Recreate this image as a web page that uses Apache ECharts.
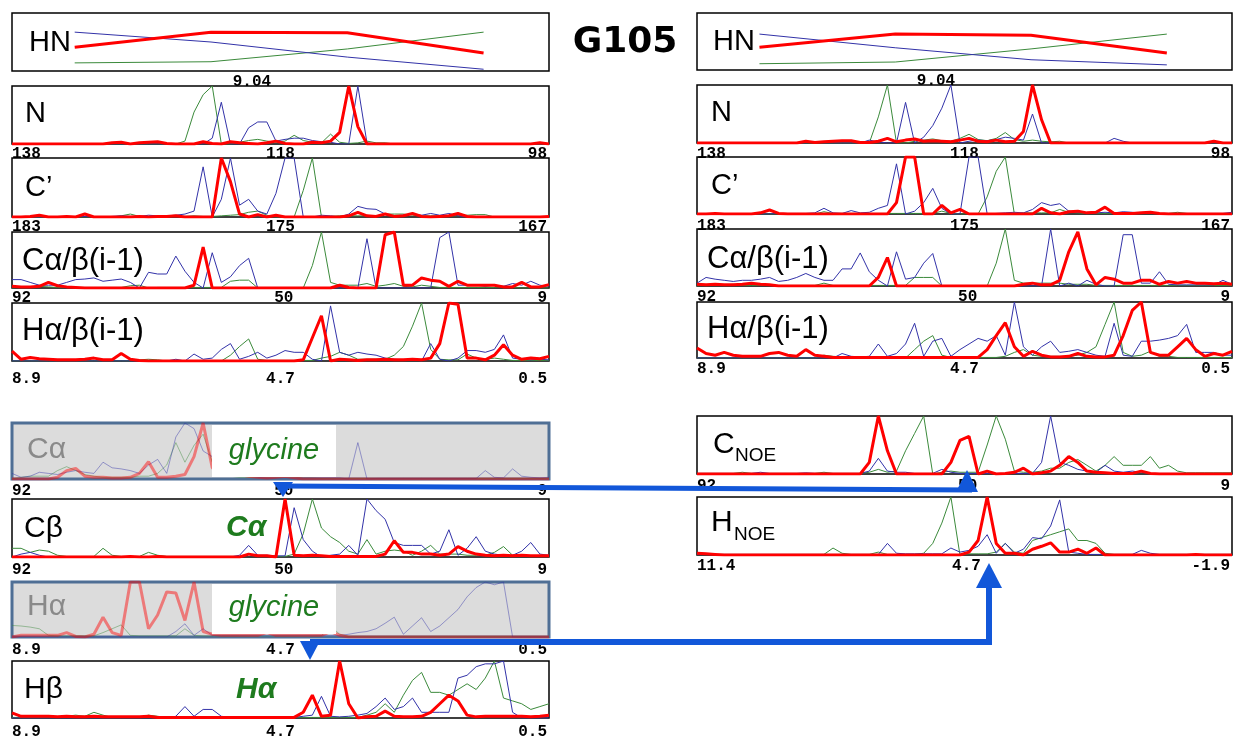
<!DOCTYPE html>
<html>
<head>
<meta charset="utf-8">
<script src="https://cdn.jsdelivr.net/npm/echarts@6/dist/echarts.min.js"></script>
<style>
  html, body { margin: 0; background: #fff; }
  #main { width: 1237px; height: 738px; }
</style>
</head>
<body>
<div id="main"></div>
<script>
// ---- strip data (intensity, 0 = baseline, 100 = top of strip) ----
// HN strips: 4 planes
var hnShift = [9.105, 9.055, 9.005, 8.955];
var hnRedL = [41, 67, 66, 31];
var hnBlueL = [67, 50, 24, 3];
var hnGreenL = [14, 16, 38, 67];
var hnRedR = [40, 63, 61, 30];
var hnBlueR = [63, 39, 18, 9];
var hnGreenR = [11, 14, 37, 63];

// N
var nRedL = [0,0,0,0,0,0,0,0,0,0, 0,2,3,0,2,3,4,1,0,0, 0,4,1,0,4,2,1,0,2,5, 1,0,0,3,2,5,20,100,30,0, 0,0,0,0,0,0,0,0,0,0, 0,0,0,0,0,0,0,0,2,0];
var nBlueL = [0,0,0,0,0,0,0,0,0,0, 0,0,0,0,0,0,0,0,0,0, 0,0,10,72,0,0,28,38,38,5, 8,10,10,6,4,3,0,0,100,2, 0,0,0,0,0,0,0,0,0,0, 0,0,0,0,0,0,0,0,0,0];
var nGreenL = [0,0,0,0,0,0,0,0,0,0, 0,0,0,0,0,0,0,0,0,5, 55,85,100,0,0,3,6,8,5,3, 5,15,6,3,2,17,3,1,2,5, 2,2,0,0,0,0,0,0,0,0, 0,0,0,0,0,0,0,0,0,0];
var nRedR = [0,0,0,0,0,0,0,0,0,0, 0,0,3,1,2,3,4,4,1,1, 3,8,2,5,7,3,4,3,2,5, 8,3,2,5,2,3,20,100,40,0, 0,0,0,0,0,0,0,0,0,0, 0,0,0,0,0,0,0,3,0,0];
var nBlueR = [0,0,0,0,0,0,0,0,0,0, 0,0,0,2,0,0,0,0,0,5, 2,0,0,70,0,10,30,60,100,0, 3,5,4,6,10,8,5,50,0,0, 0,0,0,0,0,0,8,3,0,0, 0,0,0,0,0,0,0,0,0,0];
var nGreenR = [0,0,0,0,0,0,0,0,0,0, 0,0,0,0,0,0,0,0,0,0, 45,100,0,0,3,5,7,4,3,8, 15,6,4,8,18,6,3,5,3,2, 3,0,0,0,0,0,0,0,0,0, 0,0,0,0,0,0,0,0,0,0];

// C'
var coRedL = [0,0,1,3,0,0,1,0,5,0, 0,0,0,0,1,0,1,1,2,0, 0,0,0,100,60,5,0,4,0,3, 0,0,0,0,0,0,0,2,8,2, 1,5,1,2,6,1,0,1,2,6, 1,0,0,0,0,0,0,0,0,1];
var coBlueL = [0,0,0,0,0,0,0,0,1,0, 0,1,2,1,1,3,2,2,3,5, 10,85,0,30,100,20,30,10,5,40, 100,100,0,0,3,2,0,5,18,14, 13,5,2,3,5,3,6,3,6,2, 0,0,0,0,0,0,0,0,0,0];
var coGreenL = [0,0,0,0,0,0,0,0,0,0, 0,0,2,5,1,1,1,2,1,1, 2,1,1,2,3,4,8,10,3,0, 0,0,45,100,0,1,2,2,2,2, 2,5,5,5,3,2,2,2,2,2, 3,4,4,0,0,0,0,0,0,0];
var coRedR = [0,0,1,0,0,0,0,2,7,1, 0,0,0,0,0,0,0,0,0,0, 0,0,20,100,100,0,0,15,2,8, 0,0,0,0,0,0,0,0,10,2, 0,4,5,2,3,12,1,1,1,2, 3,1,0,0,0,0,0,0,0,0];
var coBlueR = [0,0,0,0,0,0,0,0,0,1, 1,1,1,2,10,2,1,6,2,3, 10,15,88,0,5,20,45,10,0,0, 100,100,0,1,2,3,2,8,20,15, 18,5,3,2,2,3,2,4,3,1, 1,1,1,1,1,1,1,1,1,3];
var coGreenR = [0,0,0,0,0,0,0,0,0,0, 0,0,0,0,4,1,1,1,1,1, 1,1,1,1,1,1,1,5,1,0, 0,0,30,75,100,0,2,2,2,2, 8,3,2,1,1,1,1,1,1,1, 1,1,1,3,1,0,0,0,0,0];

// Ca/b(i-1)
var cabRedL = [3,2,2,3,10,4,2,1,0,0, 0,0,0,0,0,0,0,0,0,0, 5,73,0,0,0,0,0,0,0,0, 0,0,0,0,0,0,5,1,0,0, 0,95,100,5,5,18,14,12,3,12, 5,5,5,5,2,2,10,2,2,6];
var cabBlueL = [15,15,10,5,5,5,10,15,16,18, 12,14,16,10,0,28,25,25,57,30, 10,0,63,10,20,40,53,0,0,0, 0,0,0,0,0,0,0,0,0,88, 0,0,0,0,0,0,0,90,100,5, 5,5,3,5,3,8,5,12,5,3];
var cabGreenL = [0,2,2,3,2,1,1,1,1,1, 1,1,1,4,5,0,1,1,1,1, 1,1,1,1,12,14,14,0,0,0, 0,0,0,40,100,10,5,5,5,8, 3,5,8,3,2,5,3,1,1,1, 1,1,1,1,3,1,0,0,0,0];
var cabRedR = [3,2,3,2,2,3,5,3,2,0, 0,0,0,0,0,0,0,0,0,0, 15,50,0,0,0,0,0,0,0,0, 0,0,0,0,0,0,3,5,2,2, 10,60,95,30,2,15,12,5,5,10, 10,3,8,5,8,5,5,4,5,3];
var cabBlueR = [5,15,12,10,8,10,10,12,15,8, 10,15,22,15,10,10,30,30,58,25, 10,0,60,12,15,40,57,0,0,0, 0,0,0,0,0,0,0,0,0,100, 0,5,0,10,3,0,0,90,90,5, 5,25,3,2,2,2,2,2,10,3];
var cabGreenR = [0,2,2,2,3,1,1,1,1,1, 1,1,1,1,5,1,1,1,1,1, 1,1,1,1,15,15,15,0,0,0, 0,0,0,40,100,10,5,5,5,5, 5,3,3,3,1,1,1,1,1,1, 1,1,1,1,1,1,1,1,1,1];

// Ha/b(i-1)
var habRedL = [17,3,6,4,3,2,2,2,3,5, 2,2,13,3,1,0,0,0,0,0, 0,0,0,0,0,0,0,0,0,0, 0,0,2,40,78,0,3,2,1,2, 2,3,2,2,3,2,5,30,100,98, 5,5,2,10,28,10,3,5,4,8];
var habBlueL = [0,0,0,0,0,0,0,0,0,0, 0,0,0,0,0,0,0,0,3,0, 12,3,5,20,30,3,8,15,5,10, 18,15,15,3,0,95,15,10,15,12, 10,5,3,2,2,0,30,3,0,5, 18,18,15,20,45,5,3,2,3,2];
var habGreenL = [0,0,0,0,0,0,0,0,0,0, 0,0,0,0,2,3,2,0,0,0, 0,0,0,0,10,25,38,3,1,1, 1,1,1,1,5,8,15,10,3,3, 3,3,10,25,60,100,20,3,2,2, 12,5,3,5,3,1,1,1,1,1];
var habRedR = [18,8,5,10,5,3,3,3,8,10, 5,3,15,5,3,1,1,1,1,1, 1,1,1,1,1,1,1,1,1,1, 1,1,15,40,63,20,3,12,5,2, 2,3,8,3,2,2,5,40,85,100, 10,5,5,20,35,15,3,8,5,12];
var habBlueR = [0,0,0,0,0,0,0,0,0,0, 0,0,0,0,0,0,8,3,2,3, 25,3,8,25,62,3,30,35,3,15, 25,35,30,40,5,100,20,5,20,30, 10,12,15,10,5,3,62,5,3,30, 30,32,35,40,60,10,10,10,5,5];
var habGreenR = [0,0,0,0,0,0,0,0,0,0, 0,0,0,0,5,3,2,0,0,0, 0,0,0,0,15,30,40,5,1,1, 1,1,1,1,3,10,15,5,3,3, 3,3,5,10,20,60,100,10,3,5, 12,3,3,1,1,1,1,1,1,1];

// Ca (glycine, greyed)
var caRed = [0,0,0,0,0,3,15,19,5,3, 3,2,2,3,10,31,3,3,5,8, 40,100,20,12,10,8,5,3,2,3, 5,2,0,0,0,0,0,0,0,0, 0,0,0,0,0,0,0,0,0,0, 0,0,0,0,0,0,0,0,0,0];
var caBlue = [10,3,5,12,10,8,12,15,12,10, 30,20,18,15,10,25,35,10,75,100, 90,50,40,20,10,5,5,3,2,2, 2,2,2,2,2,2,2,0,65,0, 1,1,1,1,1,1,1,1,1,1, 1,1,15,3,2,18,5,3,2,3];
var caGreen = [0,3,5,5,5,15,22,15,8,5, 3,3,3,3,5,5,10,25,65,30, 60,80,30,10,5,3,3,3,3,3, 3,3,2,2,1,1,1,1,1,1, 1,1,1,1,1,1,1,1,1,1, 1,1,1,1,1,1,1,1,1,1];

// Cb
var cbRed = [0,0,0,0,0,0,0,0,0,0, 0,0,0,1,0,0,1,0,0,0, 0,0,0,0,0,0,5,2,2,0, 100,3,2,3,2,1,1,1,1,1, 1,5,28,8,8,5,5,3,5,18, 10,5,3,2,3,2,3,2,2,2];
var cbBlue = [0,5,8,3,0,0,0,0,0,0, 0,0,0,0,0,0,0,0,0,0, 0,0,0,0,0,3,20,3,3,2, 2,85,30,10,0,3,5,20,3,100, 80,65,25,20,20,20,5,10,47,3, 15,35,10,5,3,3,10,25,5,3];
var cbGreen = [15,15,8,12,10,3,1,1,1,1, 15,3,1,1,1,8,3,1,1,1, 1,1,1,1,1,1,5,1,1,1, 1,5,40,100,50,35,25,10,5,30, 5,10,12,10,3,10,20,5,5,5, 3,3,3,8,18,3,2,2,2,2];

// Ha (glycine, greyed)
var haRed = [0,3,3,3,3,3,8,1,0,5, 36,8,3,100,100,15,40,82,80,30, 100,10,5,3,3,3,3,3,8,3, 3,3,3,3,3,10,3,0,0,0, 0,0,0,0,0,0,0,0,0,0, 0,0,0,0,0,0,0,0,0,0];
var haBlue = [0,0,0,0,0,0,0,0,0,0, 0,0,0,0,0,0,0,0,10,24, 3,15,3,3,3,3,3,3,3,3, 3,3,3,3,3,3,3,5,8,10, 15,25,36,5,20,35,10,20,35,50, 73,90,100,95,100,0,0,0,0,0];
var haGreen = [21,20,18,15,3,2,2,2,2,2, 8,15,22,3,2,2,2,2,2,15, 3,2,2,2,2,2,2,2,2,2, 2,2,2,2,2,20,5,1,1,1, 1,1,1,1,1,1,1,1,1,1, 1,1,1,1,1,1,1,1,1,1];

// Hb
var hbRed = [9,3,3,3,3,2,3,2,2,3, 2,2,2,2,2,3,1,1,1,1, 1,1,1,1,1,1,1,1,1,1, 1,1,10,40,3,5,100,25,0,2, 3,12,3,2,2,3,10,25,40,30, 5,2,3,3,3,3,3,2,3,5];
var hbBlue = [0,0,0,0,0,0,0,0,0,0, 0,0,0,0,0,0,0,0,3,20, 3,15,15,3,1,1,1,1,1,1, 1,1,3,5,38,3,2,3,5,8, 20,35,15,20,35,10,10,10,10,70, 75,90,95,95,100,10,0,0,0,0];
var hbGreen = [1,1,1,1,1,1,3,5,3,10, 5,1,1,1,1,5,3,1,1,1, 1,1,1,1,1,1,1,1,1,1, 1,1,1,1,1,1,1,1,1,5, 10,25,10,40,66,80,45,45,40,50, 60,50,70,100,35,30,25,15,20,25];

// C NOE
var cnoeRed = [0,0,0,0,0,0,0,0,0,0, 0,0,0,0,0,0,0,0,0,20, 100,40,0,0,0,0,0,0,20,58, 65,0,5,0,1,3,10,0,2,5, 15,30,20,5,3,2,1,1,1,5, 1,0,0,0,0,0,0,0,0,0];
var cnoeBlue = [1,1,1,1,1,1,1,3,1,1, 1,1,2,1,1,1,1,1,1,5, 27,5,3,3,1,1,1,8,3,1, 1,1,1,1,1,1,1,1,20,100, 20,15,8,5,3,15,5,3,5,3, 1,1,1,1,1,1,1,1,1,1];
var cnoeGreen = [1,1,1,1,1,3,1,1,1,1, 1,1,1,1,3,1,1,1,1,3, 8,3,5,40,70,100,0,3,5,3, 3,3,50,100,60,5,3,3,5,10, 10,20,25,15,5,15,30,15,15,15, 30,10,15,5,2,2,2,2,2,2];

// H NOE
var hnoeRed = [3,2,1,0,0,0,0,0,0,0, 0,0,0,0,0,0,0,0,0,0, 0,0,0,0,0,0,0,0,0,0, 5,25,100,20,3,3,0,10,15,21, 5,5,10,3,12,0,0,0,0,0, 0,0,0,0,0,1,0,0,0,0];
var hnoeBlue = [1,1,1,1,1,1,1,1,1,1, 1,1,1,1,1,1,1,1,1,1, 1,20,3,2,2,2,2,2,12,5, 8,15,35,3,20,3,10,30,28,50, 95,5,3,1,1,1,1,1,1,8, 3,1,1,1,1,1,1,1,1,1];
var hnoeGreen = [1,1,1,1,1,1,1,1,1,1, 1,1,1,1,1,12,3,1,1,1, 5,1,1,1,1,3,20,55,100,0, 2,2,2,5,20,5,3,25,30,35, 40,45,25,25,20,3,1,1,1,1, 1,1,1,1,1,1,1,1,1,1];

// ppm ranges and tick labels
var rangeN = [98, 138], ticksN = [138, 118, 98];
var rangeCO = [167, 183], ticksCO = [183, 175, 167];
var rangeC = [9, 92], ticksC = [92, 50, 9];
var rangeH = [0.5, 8.9], ticksH = [8.9, 4.7, 0.5];
var rangeHnoe = [-1.9, 11.4], ticksHnoe = [11.4, 4.7, -1.9];
var rangeHN = [8.931, 9.128], ticksHN = [9.04];

var RED = '#ff0000', BLUE = '#3232a8', GREEN = '#3b8a3b';

// panels: position on page + which data
var panels = [
  { left: 12, top: 13, width: 537, height: 58, range: rangeHN, ticks: ticksHN, margin: 3, xs: hnShift, red: hnRedL, blue: hnBlueL, green: hnGreenL },
  { left: 12, top: 86, width: 537, height: 58, range: rangeN, ticks: ticksN, margin: 2, red: nRedL, blue: nBlueL, green: nGreenL },
  { left: 12, top: 158, width: 537, height: 59, range: rangeCO, ticks: ticksCO, margin: 2, red: coRedL, blue: coBlueL, green: coGreenL },
  { left: 12, top: 232, width: 537, height: 56, range: rangeC, ticks: ticksC, margin: 2, red: cabRedL, blue: cabBlueL, green: cabGreenL },
  { left: 12, top: 303, width: 537, height: 58, range: rangeH, ticks: ticksH, margin: 10, red: habRedL, blue: habBlueL, green: habGreenL },
  { left: 12, top: 423, width: 537, height: 56, range: rangeC, ticks: ticksC, margin: 4, red: caRed, blue: caBlue, green: caGreen, grey: true },
  { left: 12, top: 499, width: 537, height: 58, range: rangeC, ticks: ticksC, margin: 5, red: cbRed, blue: cbBlue, green: cbGreen },
  { left: 12, top: 582, width: 537, height: 55, range: rangeH, ticks: ticksH, margin: 5, red: haRed, blue: haBlue, green: haGreen, grey: true },
  { left: 12, top: 661, width: 537, height: 57, range: rangeH, ticks: ticksH, margin: 6, red: hbRed, blue: hbBlue, green: hbGreen },

  { left: 697, top: 13, width: 535, height: 57, range: rangeHN, ticks: ticksHN, margin: 3, xs: hnShift, red: hnRedR, blue: hnBlueR, green: hnGreenR },
  { left: 697, top: 85, width: 535, height: 58, range: rangeN, ticks: ticksN, margin: 3, red: nRedR, blue: nBlueR, green: nGreenR },
  { left: 697, top: 157, width: 535, height: 57, range: rangeCO, ticks: ticksCO, margin: 4, red: coRedR, blue: coBlueR, green: coGreenR },
  { left: 697, top: 229, width: 535, height: 57, range: rangeC, ticks: ticksC, margin: 3, red: cabRedR, blue: cabBlueR, green: cabGreenR },
  { left: 697, top: 302, width: 535, height: 56, range: rangeH, ticks: ticksH, margin: 3, red: habRedR, blue: habBlueR, green: habGreenR },
  { left: 697, top: 416, width: 535, height: 58, range: rangeC, ticks: ticksC, margin: 4, red: cnoeRed, blue: cnoeBlue, green: cnoeGreen },
  { left: 697, top: 497, width: 535, height: 58, range: rangeHnoe, ticks: ticksHnoe, margin: 3, red: hnoeRed, blue: hnoeBlue, green: hnoeGreen }
];

// points spread evenly across the strip's ppm window (high ppm on the left)
function withShift(p, vals) {
  var lo = p.range[0], hi = p.range[1], n = vals.length;
  return vals.map(function (v, i) {
    var x = p.xs ? p.xs[i] : hi - i * (hi - lo) / (n - 1);
    return [+x.toFixed(4), v];
  });
}

// edge tick labels sit inside the strip: pad one side by the text width
var CHAR_W = 9.6;
var labelFont = { fontFamily: 'Liberation Mono', fontWeight: 'bold', fontSize: 16, color: '#000' };
var rich = {};
for (var k = 1; k <= 5; k++) {
  rich['l' + k] = Object.assign({ padding: [0, 0, 0, k * CHAR_W] }, labelFont);
  rich['r' + k] = Object.assign({ padding: [0, k * CHAR_W + 4, 0, 0] }, labelFont);
  rich['c' + k] = Object.assign({}, labelFont);
}

var grids = [], xAxes = [], yAxes = [], series = [];
panels.forEach(function (p, i) {
  grids.push({
    left: p.left, top: p.top, width: p.width, height: p.height,
    show: true,
    backgroundColor: p.grey ? '#dcdcdc' : '#fff',
    borderColor: p.grey ? '#4f6f95' : '#000',
    borderWidth: p.grey ? 3 : 1.5,
    outerBoundsMode: 'none'
  });
  var lo = p.range[0], hi = p.range[1];
  xAxes.push({
    gridIndex: i, type: 'value', inverse: true,
    min: lo, max: hi,
    axisLine: { show: false }, axisTick: { show: false }, splitLine: { show: false },
    axisLabel: Object.assign({
      customValues: p.ticks,
      margin: p.margin,
      hideOverlap: false,
      rich: rich,
      formatter: function (v) {
        var s = String(v);
        var side = v === hi ? 'l' : (v === lo ? 'r' : 'c');
        return '{' + side + s.length + '|' + s + '}';
      }
    }, labelFont)
  });
  yAxes.push({ gridIndex: i, type: 'value', min: 0, max: 100, show: false });
  var op = p.grey ? 0.45 : 1;
  [['green', GREEN, 1], ['blue', BLUE, 1], ['red', RED, 3]].forEach(function (s) {
    series.push({
      type: 'line', xAxisIndex: i, yAxisIndex: i,
      data: withShift(p, p[s[0]]),
      symbol: 'none', silent: true,
      lineStyle: { color: s[1], width: s[2], opacity: op },
      z: s[0] === 'red' ? 4 : 3
    });
  });
});

// strip labels
function txt(t, x, y, size, color) {
  return {
    type: 'text', z: 100,
    style: { text: t, x: x, y: y, fill: color || '#000', font: size + 'px "Liberation Sans"', verticalAlign: 'middle', align: 'left' }
  };
}
var labels = [
  txt('HN', 29, 43, 29), txt('N', 25, 114, 29), txt('C\u2019', 25, 188, 29),
  txt('C\u03b1/\u03b2(i-1)', 22, 261, 31), txt('H\u03b1/\u03b2(i-1)', 22, 331, 31),
  txt('C\u03b1', 27, 450, 30, '#8a8a8a'), txt('C\u03b2', 24, 529, 30),
  txt('H\u03b1', 27, 607, 30, '#8a8a8a'), txt('H\u03b2', 24, 690, 30),
  txt('HN', 713, 42, 29), txt('N', 711, 113, 29), txt('C\u2019', 711, 186, 29),
  txt('C\u03b1/\u03b2(i-1)', 707, 259, 31), txt('H\u03b1/\u03b2(i-1)', 707, 329, 31),
  txt('C', 713, 445, 30), txt('NOE', 735, 456, 19),
  txt('H', 711, 523, 30), txt('NOE', 734, 535, 19)
];

var BL = '#1257d9';
var decor = [
  // glycine boxes
  { type: 'rect', z: 90, shape: { x: 212, y: 425, width: 124, height: 52 }, style: { fill: '#fff' } },
  { type: 'rect', z: 90, shape: { x: 212, y: 584, width: 124, height: 50 }, style: { fill: '#fff' } },
  { type: 'text', z: 100, style: { text: 'glycine', x: 274, y: 451, fill: '#1e7b1e', font: 'italic 29px "Liberation Sans"', align: 'center', verticalAlign: 'middle' } },
  { type: 'text', z: 100, style: { text: 'glycine', x: 274, y: 608, fill: '#1e7b1e', font: 'italic 29px "Liberation Sans"', align: 'center', verticalAlign: 'middle' } },
  { type: 'text', z: 100, style: { text: 'C\u03b1', x: 226, y: 528, fill: '#1e7b1e', font: 'italic bold 30px "Liberation Sans"', align: 'left', verticalAlign: 'middle' } },
  { type: 'text', z: 100, style: { text: 'H\u03b1', x: 236, y: 690, fill: '#1e7b1e', font: 'italic bold 30px "Liberation Sans"', align: 'left', verticalAlign: 'middle' } },
  // title
  { type: 'text', z: 100, style: { text: 'G105', x: 625, y: 43, fill: '#000', font: 'bold 36px "DejaVu Sans"', align: 'center', verticalAlign: 'middle' } },
  // arrow Ca(glycine) -> C NOE
  { type: 'polyline', z: 110, shape: { points: [[283, 486], [972, 490]] }, style: { stroke: BL, lineWidth: 5, fill: null } },
  { type: 'polygon', z: 110, shape: { points: [[273, 482], [293, 482], [283, 497]] }, style: { fill: BL } },
  { type: 'polygon', z: 110, shape: { points: [[956, 492], [978, 492], [967, 470]] }, style: { fill: BL } },
  // arrow Ha(glycine) -> H NOE
  { type: 'polyline', z: 110, shape: { points: [[310, 642], [989, 642], [989, 586]] }, style: { stroke: BL, lineWidth: 6, fill: null, lineJoin: 'miter' } },
  { type: 'polygon', z: 110, shape: { points: [[300, 641], [320, 641], [310, 660]] }, style: { fill: BL } },
  { type: 'polygon', z: 110, shape: { points: [[976, 588], [1002, 588], [989, 563]] }, style: { fill: BL } }
];

var myChart = echarts.init(document.getElementById('main'), null, { renderer: 'canvas' });
myChart.setOption({
  animation: false,
  backgroundColor: '#fff',
  grid: grids,
  xAxis: xAxes,
  yAxis: yAxes,
  series: series,
  graphic: { elements: labels.concat(decor) }
});
</script>
</body>
</html>
